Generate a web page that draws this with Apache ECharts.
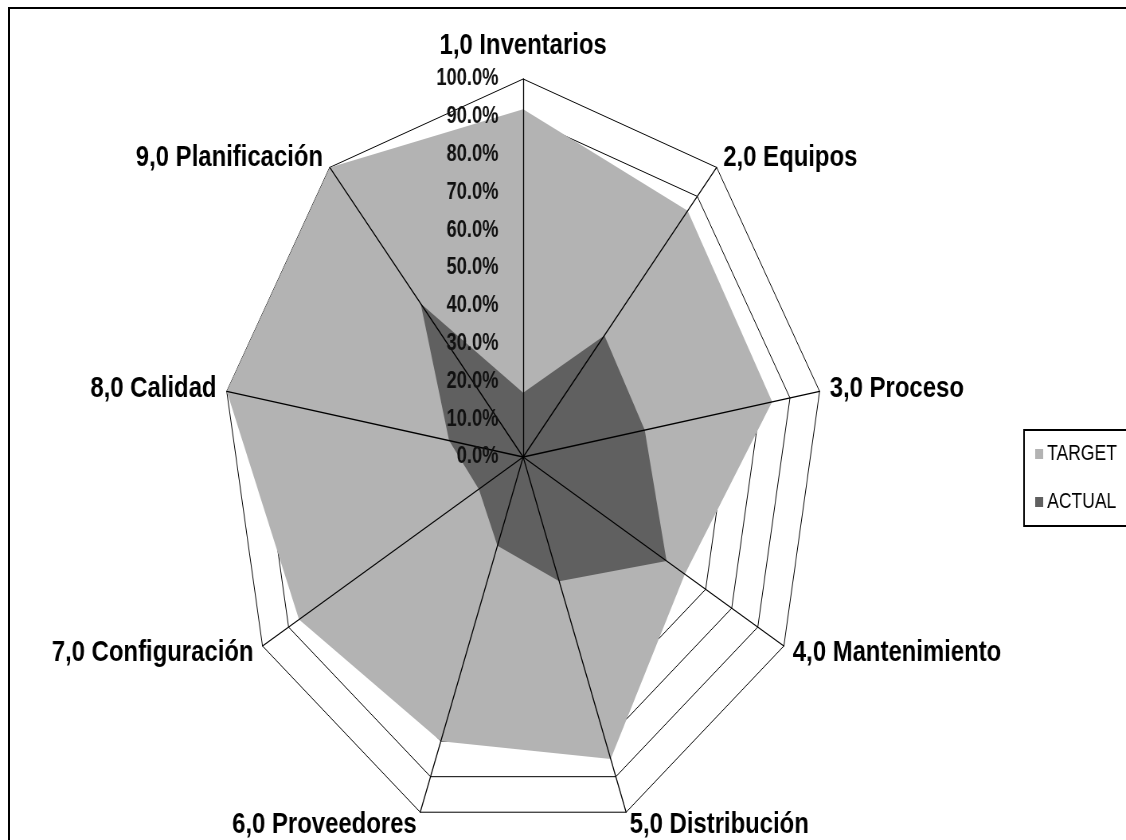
<!DOCTYPE html>
<html>
<head>
<meta charset="utf-8">
<script src="https://cdn.jsdelivr.net/npm/echarts@6/dist/echarts.min.js"></script>
<style>
    html, body { margin: 0; padding: 0; background: #fff; overflow: hidden; }
    #frame { position: absolute; left: 8px; top: 7px; width: 1300px; height: 1000px; border: 2px solid #000; box-sizing: border-box; }
    /* the original picture is squeezed horizontally, so draw wide and squeeze it */
    #main { position: absolute; left: 0; top: 0; width: 1414px; height: 840px; transform: scaleX(0.7963); transform-origin: 0 0; }
</style>
</head>
<body>
<div id="frame"></div>
<div id="main"></div>
<script>
const categories = ['1,0 Inventarios', '2,0 Equipos', '3,0 Proceso', '4,0 Mantenimiento', '5,0 Distribución',
    '6,0 Proveedores', '7,0 Configuración', '8,0 Calidad', '9,0 Planificación'];
const target = [0.92, 0.85, 0.84, 0.62, 0.85, 0.80, 0.86, 1.00, 1.00];
const actual = [0.17, 0.42, 0.41, 0.55, 0.35, 0.25, 0.17, 0.25, 0.53];
const tickStep = 0.1;

const font = 'Liberation Sans, Arial, sans-serif';
const center = [657, 457];
const radius = 378;

// echarts lays radar axes counter-clockwise, the chart runs clockwise
const order = [0].concat(categories.map((c, i) => i).slice(1).reverse());
const indicator = order.map(i => ({ name: categories[i], min: 0, max: 1 }));
const pick = arr => order.map(i => arr[i]);

let chart = echarts.init(document.getElementById('main'));

const option = {
    backgroundColor: 'transparent',
    animation: false,
    legend: {
        orient: 'vertical',
        left: 1286,
        top: 430,
        borderColor: '#000',
        borderWidth: 2,
        padding: [13, 30, 13, 14],
        itemWidth: 10,
        itemHeight: 10,
        itemGap: 26,
        icon: 'rect',
        textStyle: { fontFamily: font, fontSize: 22, color: '#000' },
        data: ['TARGET', 'ACTUAL']
    },
    radar: [
        {
            center: center,
            radius: radius,
            shape: 'polygon',
            splitNumber: 10,
            indicator: indicator,
            axisName: {
                color: '#000',
                fontFamily: font,
                fontSize: 30,
                fontWeight: 'bold',
                // lift the top label a little
                formatter: name => name === categories[0] ? '{top|' + name + '}' : name,
                rich: {
                    top: { fontFamily: font, fontSize: 30, fontWeight: 'bold', color: '#000', padding: [0, 0, 5, 0] }
                }
            },
            nameGap: 13,
            axisLine: { show: false },
            splitLine: { lineStyle: { color: '#000', width: 1 } },
            splitArea: { show: false }
        },
        {
            // spokes drawn over the filled areas
            center: center,
            radius: radius,
            shape: 'polygon',
            z: 10,
            indicator: indicator,
            axisName: { show: false },
            axisLine: { lineStyle: { color: '#000', width: 1.3 } },
            splitLine: { show: false },
            splitArea: { show: false }
        }
    ],
    grid: {
        left: center[0],
        top: center[1] - radius,
        height: radius,
        width: 10
    },
    xAxis: { type: 'value', show: false },
    yAxis: {
        type: 'value',
        min: 0,
        max: 1,
        interval: tickStep,
        z: 20,
        axisLine: { show: false },
        axisTick: { show: false },
        splitLine: { show: false },
        axisLabel: {
            margin: 31,
            color: '#111',
            fontFamily: font,
            fontSize: 23,
            fontWeight: 'bold',
            formatter: v => (v * 100).toFixed(1) + '%'
        }
    },
    series: [
        {
            name: 'TARGET',
            type: 'radar',
            radarIndex: 0,
            symbol: 'none',
            itemStyle: { color: '#b3b3b3' },
            lineStyle: { width: 0 },
            areaStyle: { color: '#b3b3b3', opacity: 1 },
            data: [{ name: 'TARGET', value: pick(target) }]
        },
        {
            name: 'ACTUAL',
            type: 'radar',
            radarIndex: 0,
            symbol: 'none',
            itemStyle: { color: '#606060' },
            lineStyle: { width: 0 },
            areaStyle: { color: '#606060', opacity: 1 },
            data: [{ name: 'ACTUAL', value: pick(actual) }]
        }
    ]
};
chart.setOption(option);
</script>
</body>
</html>
